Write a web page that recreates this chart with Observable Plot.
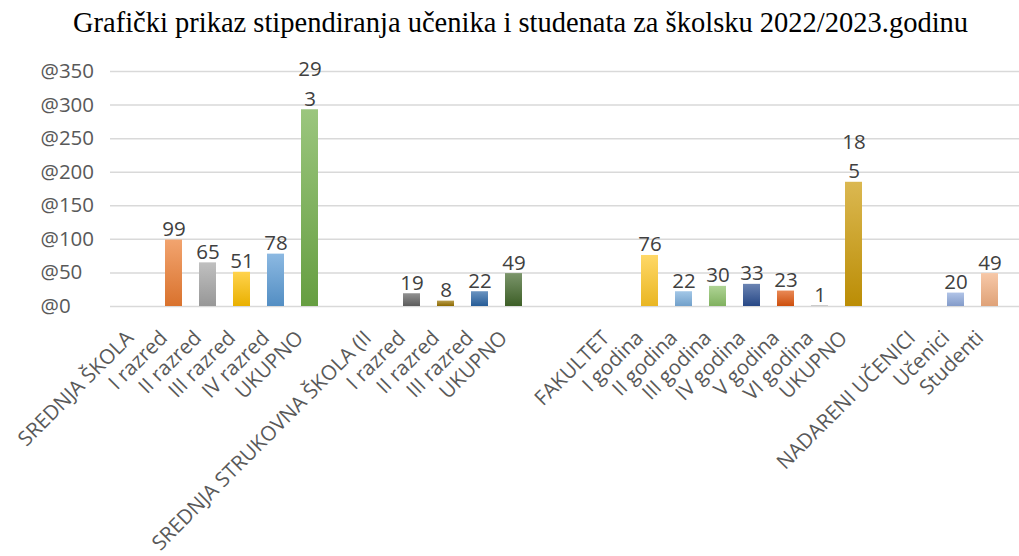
<!DOCTYPE html>
<html><head><meta charset="utf-8">
<script src="https://cdn.jsdelivr.net/npm/d3@7"></script>
<script src="https://cdn.jsdelivr.net/npm/@observablehq/plot@0.6"></script>
<style>
body{margin:0;background:#fff;}
#title{height:48px;font-family:"Liberation Serif","Times New Roman",serif;font-size:28.5px;text-align:center;line-height:46px;color:#000;padding-left:22px;white-space:nowrap;}
</style></head><body>
<div id="title">Grafički prikaz stipendiranja učenika i studenata za školsku 2022/2023.godinu</div>
<div id="chart"></div>
<script>
const categories = ["SREDNJA ŠKOLA","I razred","II razred","III razred","IV razred","UKUPNO","",
  "SREDNJA STRUKOVNA ŠKOLA (II","I razred","II razred","III razred","UKUPNO","","",
  "FAKULTET","I godina","II godina","III godina","IV godina","V godina","VI godina","UKUPNO","",
  "NADARENI UČENICI","Učenici","Studenti"];
const values = [null,99,65,51,78,293,null,
  null,19,8,22,49,null,null,
  null,76,22,30,33,23,1,185,null,
  null,20,49];
const yTickValues = [0,50,100,150,200,250,300,350];
const yTickLabels = ["@0","@50","@100","@150","@200","@250","@300","@350"];

// styles (per category colour)
const barColors = [null,"#ED7D31","#A5A5A5","#FFC000","#5B9BD5","#70AD47",null,
  null,"#636363","#997300","#2A65A5","#43682B",null,null,
  null,"#FFC726","#7CAFDD","#8CC168","#2B4F93","#E0560E","#A5A5A5","#CC9A06",null,
  null,"#8FAADC","#F4B183"];

const font = "'Open Sans', sans-serif";
const data = categories.map((c, i) => ({i, label: c, value: values[i]}));
const bars = data.filter(d => d.value != null);
const fmt = v => { const s = String(v); return s.length > 2 ? s.slice(0, 2) + "\n" + s.slice(2) : s; };

const plot = Plot.plot({
  width: 1019, height: 508,
  marginTop: 23, marginBottom: 250, marginLeft: 110, marginRight: 0,
  style: {fontFamily: font, background: "#fff"},
  x: {type: "band", domain: d3.range(categories.length), paddingInner: 0.5, paddingOuter: 0.25, axis: null},
  y: {domain: [0, 350], axis: null},
  color: {type: "identity"},
  marks: [
    Plot.gridY(yTickValues, {stroke: "#d9d9d9", strokeOpacity: 1, strokeWidth: 1.5}),
    Plot.barY(bars, {x: "i", y: "value", fill: d => `url(#g${d.i})`}),
    Plot.text(bars, {x: "i", y: "value", text: d => fmt(d.value), lineAnchor: "bottom", dy: -4,
      fontSize: 20.5, lineHeight: 1.45, fill: "#404040"}),
    Plot.text(yTickValues, {y: d => d, text: (d, i) => yTickLabels[i], frameAnchor: "left",
      textAnchor: "start", dx: -70, fontSize: 20.5, fill: "#595959"}),
    Plot.axisX({tickFormat: i => categories[i], tickRotate: -45, tickSize: 0, tickPadding: 18,
      dx: -10, dy: 10, fontSize: 20.5, fill: "#595959", label: null})
  ]
});

const svg = d3.select(plot);
const defs = svg.insert("defs", ":first-child");
barColors.forEach((c, i) => {
  if (!c) return;
  const g = defs.append("linearGradient").attr("id", "g" + i)
    .attr("x1", 0).attr("y1", 0).attr("x2", 0).attr("y2", 1);
  g.append("stop").attr("offset", "0%").attr("stop-color", d3.interpolateRgb(c, "#fff")(0.3));
  g.append("stop").attr("offset", "100%").attr("stop-color", d3.color(c).darker(0.25).formatHex());
});
document.getElementById("chart").appendChild(plot);
</script>
</body></html>
